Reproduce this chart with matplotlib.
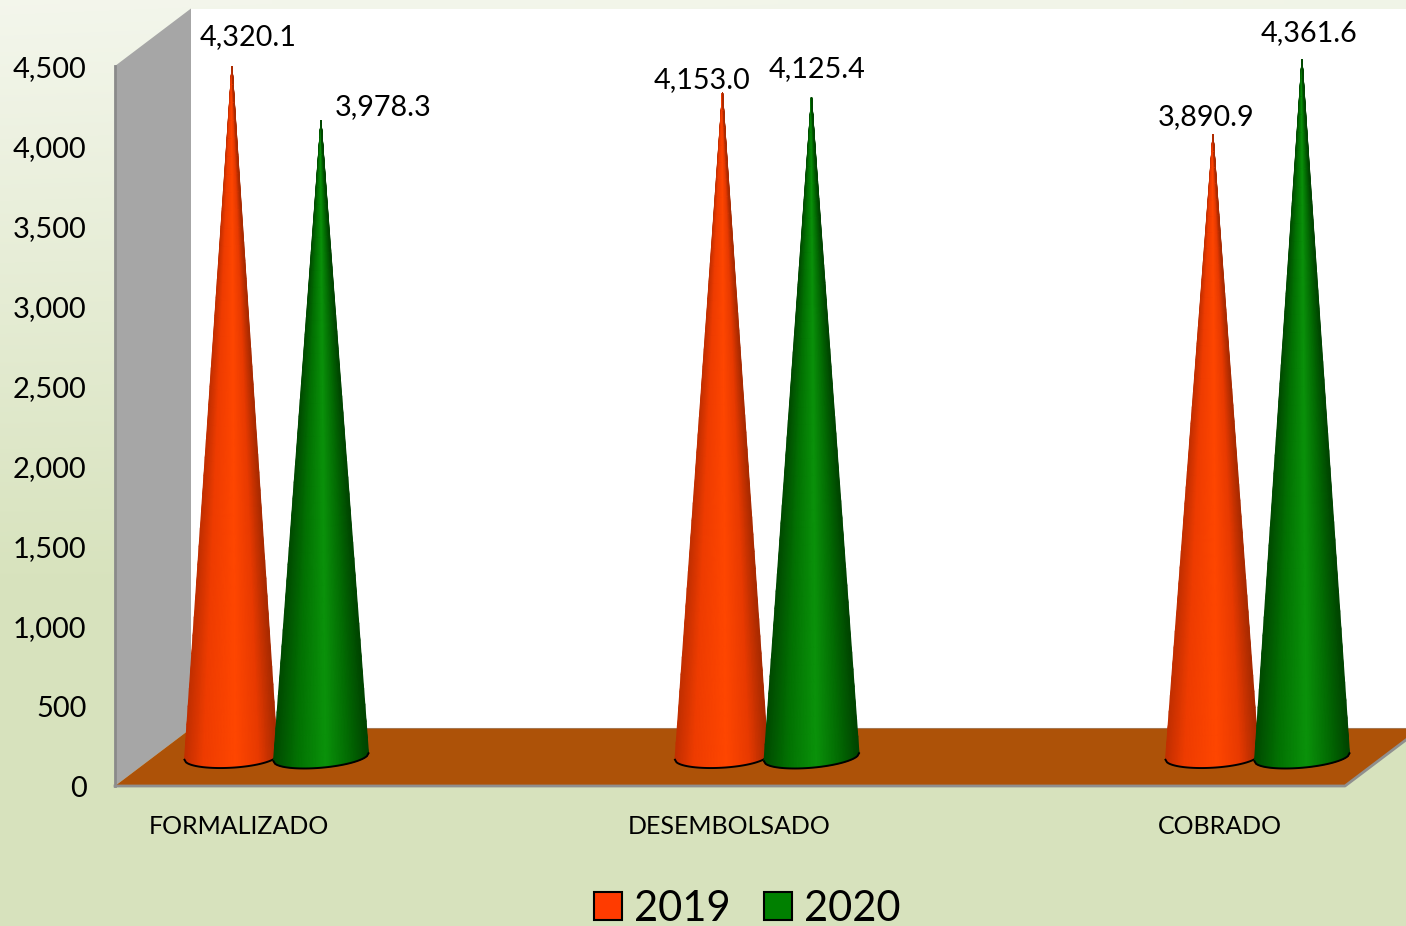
import numpy as np
import matplotlib
matplotlib.use("Agg")
import matplotlib.pyplot as plt
from matplotlib.colors import LinearSegmentedColormap
from matplotlib.patches import Polygon, Patch
from matplotlib.transforms import ScaledTranslation

plt.rcParams['font.family'] = ['Lato', 'DejaVu Sans']

categories = ["FORMALIZADO", "DESEMBOLSADO", "COBRADO"]
years = ["2019", "2020"]
values_2019 = [4320.1, 4153.0, 3890.9]
values_2020 = [3978.3, 4125.4, 4361.6]
y_ticks = [0, 500, 1000, 1500, 2000, 2500, 3000, 3500, 4000, 4500]

W, H = 1406, 926
L, R, B, T = 115, 1345, 786, 66          # front plane in pixels
X0, STEP = 239, 490.5                    # pixel of first category, pixels per category
DEPTH_X, DEPTH_Y = 76, 57.5              # depth of the 3D box in pixels
PX_V = 4500 / (B - T)                    # value units per pixel
PX_C = 1 / STEP                          # category units per pixel

fig = plt.figure(figsize=(W / 100, H / 100), dpi=100)

# background gradient
bg = fig.add_axes([0, 0, 1, 1], zorder=0)
bg.set_axis_off()
top = np.array([0.955, 0.965, 0.925])
bot = np.array([0.847, 0.890, 0.745])
yy, xx = np.mgrid[0:1:120j, 0:1:120j]
t = np.clip(yy / 0.62 + 0.10 * xx * (1 - yy), 0, 1)[..., None]
bg.imshow(top * (1 - t) + bot * t, extent=[0, 1, 0, 1], origin='upper', aspect='auto',
          interpolation='bilinear')

ax = fig.add_axes([L / W, (H - B) / H, (R - L) / W, (B - T) / H], zorder=1)
ax.set_facecolor('none')
ax.set_xlim((L - X0) * PX_C, (R - X0) * PX_C)
ax.set_ylim(0, 4500)
for s in ax.spines.values():
    s.set_visible(False)

xl, xr = ax.get_xlim()
dx, dv = DEPTH_X * PX_C, DEPTH_Y * PX_V

# box: back wall, side wall, floor
ax.add_patch(Polygon([(xl + dx, dv), (xr + 0.2, dv), (xr + 0.2, 4500 + dv), (xl + dx, 4500 + dv)],
                     fc='white', ec='none', clip_on=False, zorder=1))
ax.add_patch(Polygon([(xl, 0), (xl + dx, dv), (xl + dx, 4500 + dv), (xl, 4500)],
                     fc='#a6a6a6', ec='none', clip_on=False, zorder=2))
ax.plot([xl, xl], [0, 4500], color='#8a8a8a', lw=2, clip_on=False, zorder=2.5)
ax.add_patch(Polygon([(xl, 0), (xl + dx, dv), (xr + dx, dv), (xr, 0)],
                     fc='#ad5208', ec='none', clip_on=False, zorder=2))
ax.plot([xl + dx, xr + dx], [dv, dv], color='#a0a0a0', lw=1.5, clip_on=False, zorder=1.5)
ax.plot([xl, xr, xr + dx], [0, 0, dv], color='#8f8f8f', lw=2, clip_on=False, zorder=2.5)

orange = LinearSegmentedColormap.from_list(
    'o', [(0, '#c22f00'), (0.2, '#ee3c00'), (0.55, '#ff4600'), (0.8, '#e83a00'), (1, '#a82a00')])
green = LinearSegmentedColormap.from_list(
    'g', [(0, '#004a00'), (0.25, '#027202'), (0.55, '#0a920a'), (0.8, '#026a02'), (1, '#004400')])


def cone(xc, val, cmap, half_px, tilt_px, lean_px, z):
    u = np.linspace(-1, 1, 61)
    s = np.linspace(0, 1, 40)
    U, S = np.meshgrid(u, s)
    ell = np.sqrt(np.clip(1 - U ** 2, 0, 1))
    base = dv / 2 - (10.5 * ell - tilt_px * U) * PX_V
    tip = val + dv / 2
    X = xc + (1 - S) * U * half_px * PX_C + S * lean_px * PX_C
    Y = base * (1 - S) + tip * S
    ax.pcolormesh(X, Y, (U + 1) / 2, cmap=cmap, vmin=0, vmax=1, shading='gouraud',
                  clip_on=False, zorder=z, rasterized=True)
    ax.plot(X[0], Y[0], color='black', lw=1.4, clip_on=False, zorder=z + 0.1)


offset = 45 * PX_C
shift = 37 * PX_C
for i in range(len(categories)):
    center = i + shift
    cone(center - offset, values_2019[i], orange, 46.5, 2.5, 1, 3 + i)
    cone(center + offset, values_2020[i], green, 47.5, 4, 0, 3.5 + i)

# value labels, offset in pixels from each cone tip
off_2019 = [(16, 29), (-20, 13), (-7, 18)]
off_2020 = [(62, 14), (6, 28), (7, 26)]
for i in range(len(categories)):
    for val, off, sgn, lean in ((values_2019[i], off_2019[i], -1, 1), (values_2020[i], off_2020[i], 1, 0)):
        ax.annotate(f"{val:,.1f}", (i + shift + sgn * offset + lean * PX_C, val + dv / 2),
                    xytext=off, textcoords='offset pixels', ha='center', va='center',
                    fontsize=20.7, color='black', annotation_clip=False, zorder=10)

ax.set_yticks(y_ticks)
ax.set_yticklabels([f"{v:,}" for v in y_ticks], fontsize=20.9)
ax.set_xticks(range(len(categories)))
ax.set_xticklabels(categories, fontsize=18)
ax.tick_params(axis='y', length=0, pad=20.5)
ax.tick_params(axis='x', length=0, pad=21)
for lab in ax.get_yticklabels():
    lab.set_transform(lab.get_transform() + ScaledTranslation(0, -0.5 / 72, fig.dpi_scale_trans))

handles = [Patch(fc='#ff3b00', ec='black', lw=1.5), Patch(fc='#008000', ec='black', lw=1.5)]
fig.legend(handles, years, loc='center', bbox_to_anchor=(747.5 / W, (H - 909) / H), ncol=2,
           frameon=False, fontsize=30, handlelength=0.66, handleheight=0.66,
           handletextpad=0.30, columnspacing=0.8, borderpad=0, labelcolor='black')

fig.savefig('out.png', dpi=100)
